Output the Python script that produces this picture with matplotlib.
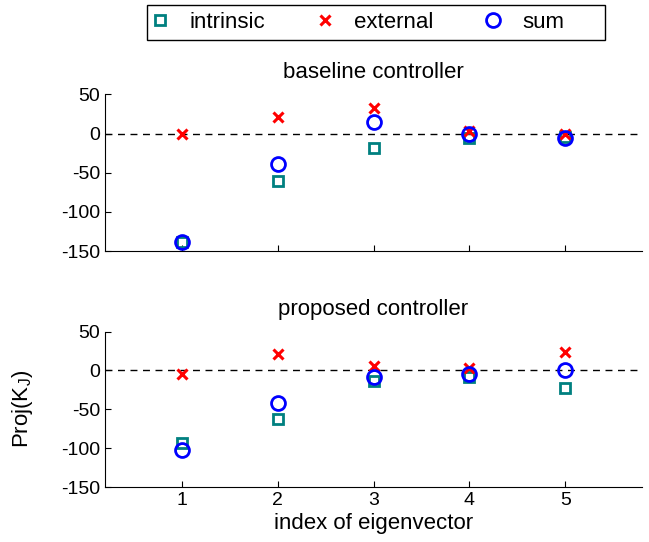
import matplotlib
matplotlib.use("Agg")
import matplotlib.pyplot as plt
from matplotlib.lines import Line2D
from matplotlib.patches import Rectangle

plt.rcParams["font.family"] = ["Liberation Sans", "DejaVu Sans"]
plt.rcParams["mathtext.fontset"] = "custom"
plt.rcParams["mathtext.rm"] = "Liberation Sans"
plt.rcParams["axes.unicode_minus"] = False

# data
eig_index = [1, 2, 3, 4, 5]

baseline_intrinsic = [-139, -61, -19, -5, -4]
baseline_external = [-1, 21, 33, 3, 0]
baseline_sum = [-139, -39, 15, 0, -5]

proposed_intrinsic = [-94, -62, -14, -9, -23]
proposed_external = [-5, 21, 5.5, 3, 24]
proposed_sum = [-102, -42, -9, -5, 0]

panel_titles = ["baseline controller", "proposed controller"]
series_names = ["intrinsic", "external", "sum"]
y_ticks = [-150, -100, -50, 0, 50]

teal = "#008080"
FS = 16
TICK_FS = 14

square_style = dict(linestyle="none", marker="s", markersize=7, markerfacecolor="none",
                    markeredgecolor=teal, markeredgewidth=2)
cross_style = dict(linestyle="none", marker="x", markersize=7, color="red",
                   markeredgewidth=2.2)
circle_style = dict(linestyle="none", marker="o", markersize=10, markerfacecolor="none",
                    markeredgecolor="blue", markeredgewidth=2)


def draw_panel(ax, intrinsic, external, total, title, show_xlabels):
    ax.axhline(0, color="black", linestyle=(0, (5, 4)), linewidth=1.0, zorder=1)
    ax.plot(eig_index, intrinsic, zorder=2, **square_style)
    ax.plot(eig_index, external, zorder=3, **cross_style)
    ax.plot(eig_index, total, zorder=4, **circle_style)
    ax.set_xlim(0.2, 5.8)
    ax.set_ylim(-150, 50)
    ax.set_yticks(y_ticks)
    ax.set_xticks(eig_index)
    if not show_xlabels:
        ax.set_xticklabels([])
    ax.tick_params(direction="in", length=4, labelsize=TICK_FS, width=0.8)
    for side in ["top", "right"]:
        ax.spines[side].set_visible(False)
    ax.set_title(title, fontsize=FS, pad=12)


fig = plt.figure(figsize=(6.49, 5.42), dpi=100)
W, H = 649.0, 542.0
ax_top = fig.add_axes([105 / W, 1 - 251 / H, 537 / W, 156.5 / H])
ax_bot = fig.add_axes([105 / W, 1 - 487 / H, 537 / W, 155.5 / H])

draw_panel(ax_top, baseline_intrinsic, baseline_external, baseline_sum, panel_titles[0], False)
draw_panel(ax_bot, proposed_intrinsic, proposed_external, proposed_sum, panel_titles[1], True)

ax_bot.set_xlabel("index of eigenvector", fontsize=FS, labelpad=3)
ax_bot.set_ylabel(r"Proj(K$_{\mathregular{J}}$)", fontsize=FS, labelpad=19)

# legend box drawn separately so it can be wider than its entries
fig.patches.append(Rectangle((147 / W, 1 - 40 / H), 458 / W, 35 / H,
                             transform=fig.transFigure, facecolor="white",
                             edgecolor="black", linewidth=1.0))
handles = [Line2D([], [], **square_style), Line2D([], [], **cross_style),
           Line2D([], [], **circle_style)]
fig.legend(handles, series_names, ncol=3, loc="center left",
           bbox_to_anchor=(147 / W, 1 - 22.5 / H), fontsize=FS, frameon=False,
           handlelength=1.0, handletextpad=0.8, columnspacing=2.2, borderpad=0.0,
           borderaxespad=0.1)

fig.savefig("out.png", dpi=100)
